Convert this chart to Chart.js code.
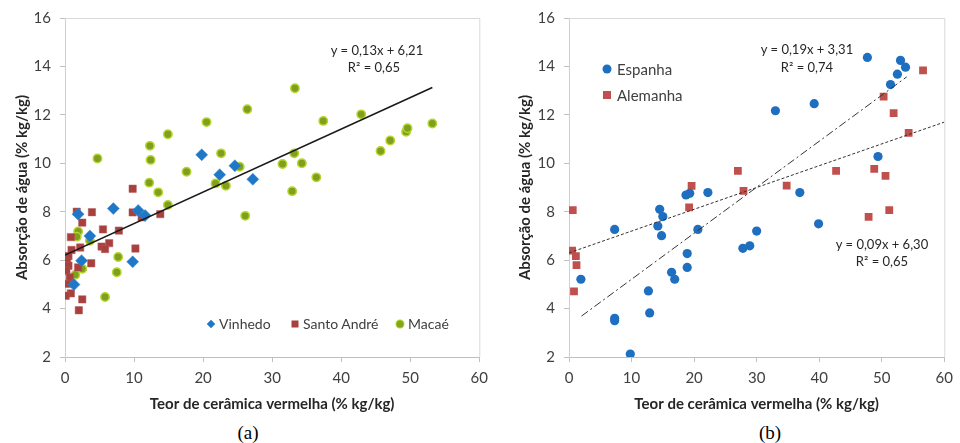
<!DOCTYPE html>
<html><head><meta charset="utf-8">
<script src="https://cdn.jsdelivr.net/npm/chart.js@4/dist/chart.umd.min.js"></script>
<style>
body{margin:0;width:960px;height:443px;background:#fff;position:relative;overflow:hidden;font-family:Lato,"Open Sans",sans-serif;}
canvas{position:absolute;top:0}
#ca{left:0}
#cb{left:500px}
.eq{position:absolute;color:#262626;white-space:nowrap;transform:translate(-50%,-50%);font-size:13px;line-height:1}
.lg{position:absolute;color:#404040;white-space:nowrap;font-size:14px;line-height:1;transform:translateY(-50%)}
.mk{position:absolute;transform:translate(-50%,-50%)}
.cap{position:absolute;font-family:"Liberation Serif","Times New Roman",serif;font-size:19px;color:#000;transform:translate(-50%,-50%);line-height:1}
</style>
</head><body>
<canvas id="ca" width="495" height="420"></canvas>
<canvas id="cb" width="460" height="420"></canvas>

<div class="eq" style="left:377px;top:50px">y = 0,13x + 6,21</div>
<div class="eq" style="left:374px;top:67px">R² = 0,65</div>

<div class="mk" style="left:211px;top:324px;width:6px;height:6px;background:#1f77c8;transform:translate(-50%,-50%) rotate(45deg)"></div>
<div class="lg" style="left:219px;top:324px">Vinhedo</div>
<div class="mk" style="left:295px;top:324px;width:7px;height:7px;background:#a8403e"></div>
<div class="lg" style="left:303px;top:324px">Santo André</div>
<div class="mk" style="left:400px;top:324px;width:7px;height:7px;border-radius:50%;background:#84a51c;box-shadow:0 0 0 1px #b5d62e"></div>
<div class="lg" style="left:408px;top:324px">Macaé</div>

<div class="eq" style="left:807px;top:49px">y = 0,19x + 3,31</div>
<div class="eq" style="left:807px;top:67px">R² = 0,74</div>
<div class="eq" style="left:882px;top:244px">y = 0,09x + 6,30</div>
<div class="eq" style="left:882px;top:261px">R² = 0,65</div>

<div class="mk" style="left:607px;top:69px;width:9px;height:9px;border-radius:50%;background:#1f6fc0"></div>
<div class="lg" style="left:617px;top:69px;font-size:15px">Espanha</div>
<div class="mk" style="left:607px;top:95px;width:8px;height:8px;background:#c0504d"></div>
<div class="lg" style="left:617px;top:95px;font-size:15px">Alemanha</div>

<div class="cap" style="left:248px;top:432px">(a)</div>
<div class="cap" style="left:770px;top:432px">(b)</div>

<script>
// ---- Chart (a) data ----
const vinhedo = [[1.9,7.9],[7.0,8.13],[10.6,8.05],[11.6,7.84],[3.6,7.0],[2.4,5.98],[9.8,5.93],[1.3,4.99],[19.8,10.35],[24.6,9.9],[22.4,9.53],[27.2,9.34]];
const santoAndre = [[9.8,8.95],[1.7,8.0],[3.9,7.98],[9.8,7.97],[11.1,7.77],[2.5,7.55],[0.85,6.95],[5.5,7.27],[7.8,7.22],[0.95,6.42],[2.2,6.52],[6.4,6.7],[5.3,6.56],[5.8,6.46],[10.2,6.48],[0.5,6.17],[0.3,5.94],[0.5,5.77],[3.8,5.87],[1.9,5.7],[0.2,5.56],[0.7,5.29],[0.5,5.02],[0.85,4.63],[0.1,4.53],[2.5,4.38],[2.0,3.93],[13.8,7.9]];
const macae = [[12.2,9.2],[13.5,8.8],[1.9,7.18],[1.7,6.97],[3.6,6.8],[7.7,6.13],[2.5,5.64],[7.5,5.5],[1.5,5.4],[5.8,4.48],[4.7,10.2],[33.3,13.1],[26.4,12.23],[20.5,11.7],[14.9,11.2],[12.3,10.72],[12.4,10.14],[22.6,10.41],[25.3,9.86],[31.5,9.97],[33.2,10.41],[34.3,10.0],[17.6,9.65],[21.8,9.17],[23.3,9.07],[32.9,8.85],[14.9,8.28],[26.1,7.83],[37.4,11.75],[42.9,12.02],[36.4,9.42],[45.7,10.51],[47.1,10.94],[49.4,11.3],[49.6,11.45],[53.2,11.64]];
const trendA = [[0,6.21],[53.2,13.13]];

// ---- Chart (b) data ----
const espanha = [[18.7,8.69],[19.3,8.76],[22.2,8.79],[14.5,8.1],[15.0,7.8],[14.2,7.41],[14.8,7.01],[7.3,7.27],[20.6,7.27],[18.9,6.27],[18.9,5.7],[16.4,5.5],[16.9,5.21],[1.9,5.21],[12.7,4.73],[12.9,3.82],[7.3,3.6],[7.3,3.5],[9.8,2.12],[47.7,14.37],[53.0,14.25],[53.8,13.97],[52.5,13.68],[51.4,13.25],[33.0,12.17],[39.2,12.46],[49.4,10.28],[36.9,8.79],[39.9,7.5],[30.0,7.2],[28.9,6.59],[27.8,6.49]];
const alemanha = [[19.6,9.07],[0.6,8.07],[19.2,8.18],[0.5,6.39],[1.1,6.17],[1.2,5.79],[0.8,4.71],[56.6,13.84],[50.3,12.75],[51.9,12.07],[54.3,11.26],[27.0,9.69],[42.7,9.69],[48.8,9.77],[50.6,9.48],[34.8,9.08],[27.9,8.86],[51.2,8.07],[47.9,7.79]];
const trendEsp = [[2.0,3.69],[54.0,13.57]];
const trendAle = [[0,6.30],[60,11.70]];

const xTicks = [0,10,20,30,40,50,60];
const yTicks = [2,4,6,8,10,12,14,16];
const xTitle = 'Teor de cerâmica vermelha (% kg/kg)';
const yTitle = 'Absorção de água (% kg/kg)';

const pts = a => a.map(p => ({x:p[0], y:p[1]}));
const FONT = 'Lato, "Open Sans", sans-serif';

const frame = {
  id:'frame',
  afterDatasetsDraw(c){
    const {ctx, chartArea:a} = c;
    ctx.save();
    ctx.strokeStyle = '#d9d9d9'; ctx.lineWidth = 1;
    ctx.beginPath();
    ctx.moveTo(a.left, a.top+0.5); ctx.lineTo(a.right+0.5, a.top+0.5); ctx.lineTo(a.right+0.5, a.bottom);
    ctx.stroke();
    ctx.restore();
  }
};

function scales(yWidth, yTitlePad){
  return {
    x:{type:'linear', min:0, max:60,
      afterBuildTicks(s){ s.ticks = xTicks.map(v=>({value:v})); },
      ticks:{color:'#404040', font:{family:FONT,size:15}, padding:7, maxRotation:0},
      grid:{drawOnChartArea:false, drawTicks:true, tickLength:5, color:'#bfbfbf'},
      border:{display:true, color:'#bfbfbf'},
      title:{display:true, text:xTitle, color:'#262626', font:{family:FONT,size:15,weight:'bold'}, padding:{top:4,bottom:7}},
      afterFit(s){ s.height = 63; }
    },
    y:{type:'linear', min:2, max:16,
      afterBuildTicks(s){ s.ticks = yTicks.map(v=>({value:v})); },
      ticks:{color:'#404040', font:{family:FONT,size:15}, padding:9},
      grid:{drawOnChartArea:false, drawTicks:true, tickLength:5, color:'#bfbfbf'},
      border:{display:true, color:'#d0d0d0'},
      title:{display:true, text:yTitle, color:'#262626', font:{family:FONT,size:15,weight:'bold'}, padding:{top:yTitlePad,bottom:0}},
      afterFit(s){ s.width = yWidth; }
    }
  };
}
const common = {
  responsive:false, animation:false, events:[],
  plugins:{legend:{display:false}, tooltip:{enabled:false}}
};

new Chart(document.getElementById('ca'), {
  type:'scatter',
  data:{datasets:[
    {type:'line', data:pts(trendA), borderColor:'#1a1a1a', borderWidth:1.6, pointRadius:0, showLine:true, fill:false},
    {label:'Vinhedo', data:pts(vinhedo), pointStyle:'rectRot', pointRadius:6, backgroundColor:'#1f77c8', borderColor:'#3a8ad6', borderWidth:0.5},
    {label:'Santo André', data:pts(santoAndre), pointStyle:'rect', pointRadius:5.2, backgroundColor:'#a8403e', borderColor:'#b55a58', borderWidth:0.5},
    {label:'Macaé', data:pts(macae), pointStyle:'circle', pointRadius:4.2, backgroundColor:'#7f9f1d', borderColor:'#b5d62e', borderWidth:1.5}
  ]},
  options:Object.assign({}, common, {layout:{padding:{top:18,right:11.5,bottom:0,left:0}}, scales:scales(65,13)}),
  plugins:[frame]
});

new Chart(document.getElementById('cb'), {
  type:'scatter',
  data:{datasets:[
    {type:'line', data:pts(trendEsp), borderColor:'#333', borderWidth:1, borderDash:[8,3,2,3], pointRadius:0, showLine:true, fill:false},
    {type:'line', data:pts(trendAle), borderColor:'#333', borderWidth:1, borderDash:[3,2], pointRadius:0, showLine:true, fill:false},
    {label:'Espanha', data:pts(espanha), pointStyle:'circle', pointRadius:4.6, backgroundColor:'#1f6fc0', borderColor:'#1f6fc0', borderWidth:0},
    {label:'Alemanha', data:pts(alemanha), pointStyle:'rect', pointRadius:5.5, backgroundColor:'#c0504d', borderColor:'#c0504d', borderWidth:0}
  ]},
  options:Object.assign({}, common, {layout:{padding:{top:18,right:10,bottom:0,left:0}}, scales:scales(69,16)}),
  plugins:[frame]
});
</script>
</body></html>
